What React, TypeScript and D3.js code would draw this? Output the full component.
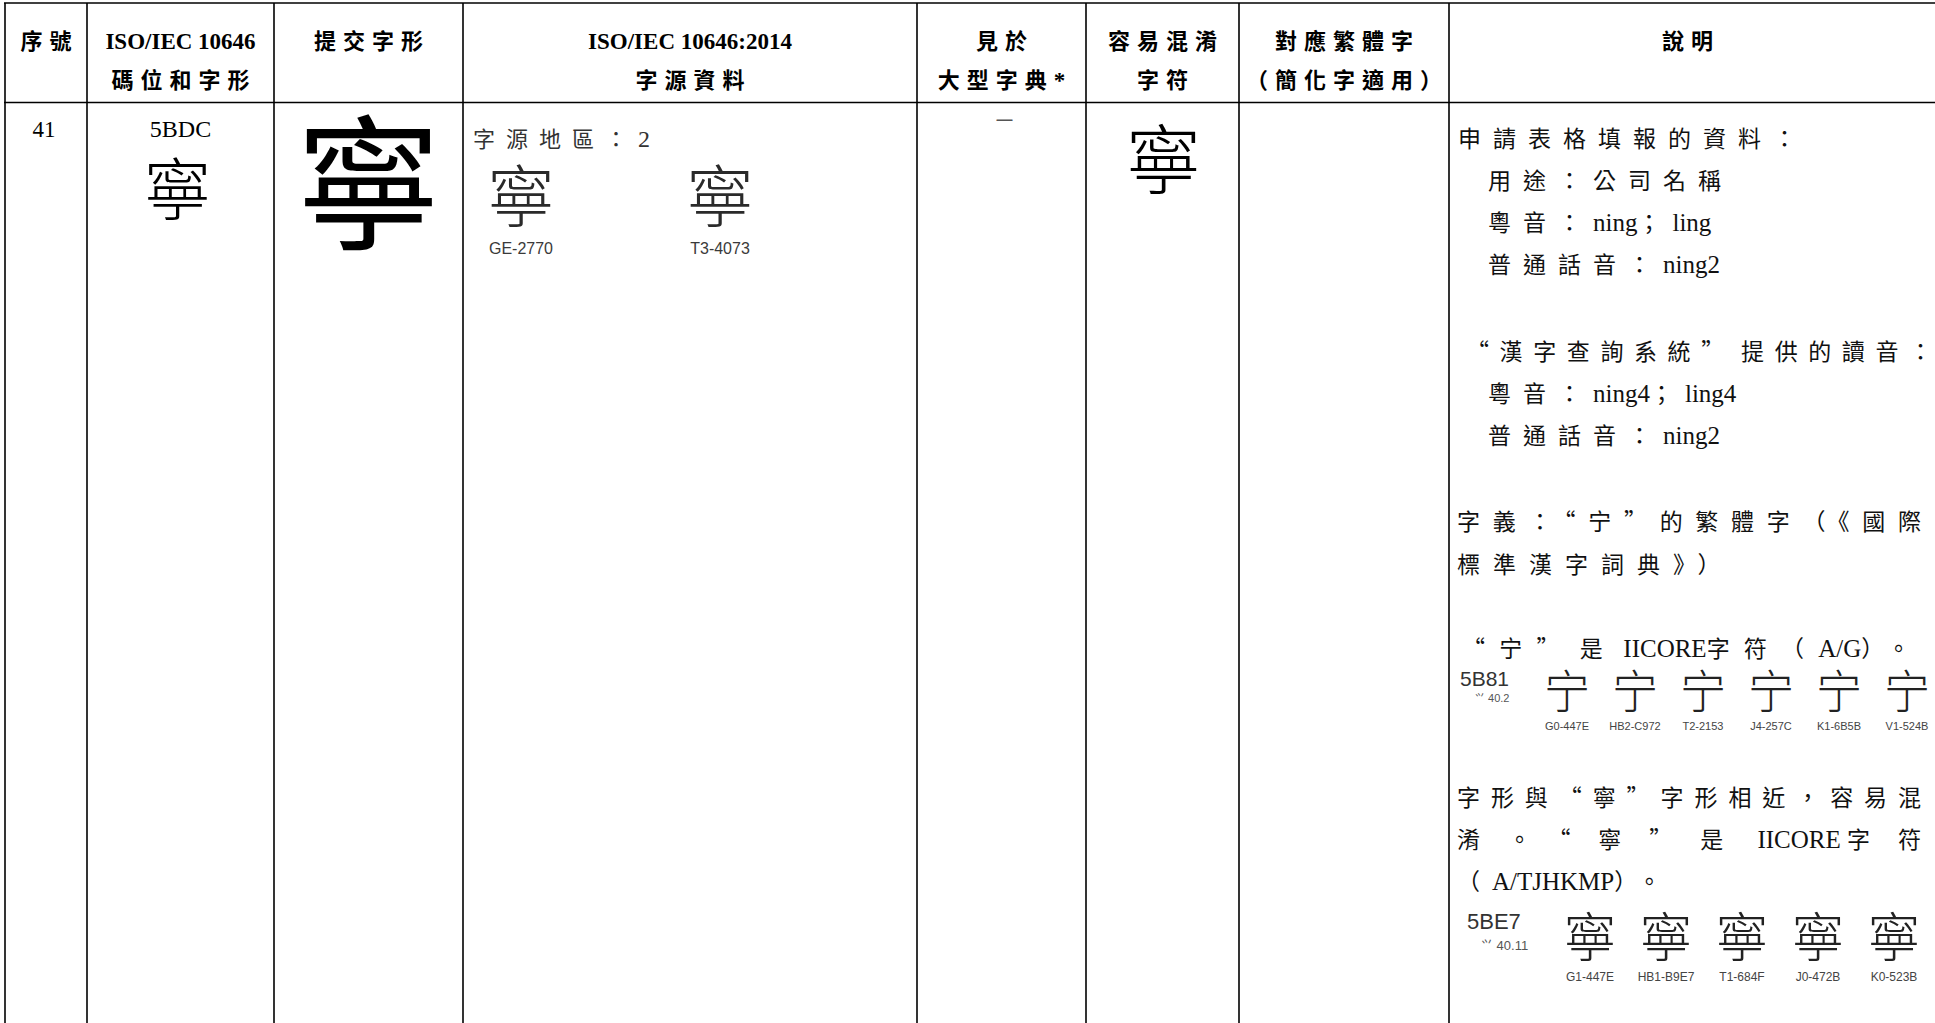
import React, { useEffect, useRef } from "react";
import * as d3 from "d3";

const W = 1935;
const H = 1023;
const CJK = "'Noto Sans CJK TC', 'Noto Sans CJK SC', sans-serif";
const SERIF = "'Liberation Serif', 'DejaVu Serif', serif";
const SANS = "'Liberation Sans', Arial, sans-serif";

// table header
const columnKeys = ["seq", "code", "submitted", "source", "dict", "confusable", "trad", "notes"];
const headerTop = ["序號", "ISO/IEC 10646", "提交字形", "ISO/IEC 10646:2014", "見於", "容易混淆", "對應繁體字", "說明"];
const headerBottom = ["", "碼位和字形", "", "字源資料", "大型字典*", "字符", "（簡化字適用）", ""];

// row 41
const seqNo = "41";
const codePoint = "5BDC";
const submittedChar = "寧";
const sourceRegion = "字源地區：2";
const sourceIds = ["GE-2770", "T3-4073"];
const dictMark = "－";
const confusableChar = "寧";

// notes column
const notesApplication = ["申請表格填報的資料：", "用途：公司名稱", "粵音：ning；ling", "普通話音：ning2"];
const notesLookup = ["“漢字查詢系統” 提供的讀音：", "粵音：ning4；ling4", "普通話音：ning2"];
const notesMeaning = ["字義：“宁”的繁體字（《國際", "標準漢字詞典》）"];
const notesIicore = ["“宁” 是 IICORE字符（A/G）。"];
const notesSimilar = ["字形與“寧”字形相近，容易混", "淆。“寧”是 IICORE 字符", "（A/TJHKMP）。"];

const simpCode = "5B81";
const simpRadical = "⺍ 40.2";
const simpChar = "宁";
const simpSources = ["G0-447E", "HB2-C972", "T2-2153", "J4-257C", "K1-6B5B", "V1-524B"];

const tradCode = "5BE7";
const tradRadical = "⺍ 40.11";
const tradChar = "寧";
const tradSources = ["G1-447E", "HB1-B9E7", "T1-684F", "J0-472B", "K0-523B"];

const isWide = (ch: string) => ch.charCodeAt(0) > 0x2000;

// runs of wide / latin text; the final wide char gets its own run so no trailing spacing
function splitRuns(s: string) {
  const runs: { text: string; wide: boolean; tail?: boolean }[] = [];
  const chars = Array.from(s);
  chars.forEach((ch, i) => {
    const w = isWide(ch);
    const last = runs[runs.length - 1];
    if (w && i === chars.length - 1) runs.push({ text: ch, wide: true, tail: true });
    else if (last && last.wide === w) last.text += ch;
    else runs.push({ text: ch, wide: w });
  });
  return runs;
}

type LineOpts = {
  size: number;
  latinSize?: number;
  spacing?: number;
  justifyTo?: number;
  fill?: string;
  weight?: number;
  anchor?: string;
  latinFont?: string;
};

function drawLine(parent: any, str: string, x: number, y: number, o: LineOpts) {
  const spacing = o.spacing ?? 0;
  const t = parent
    .append("text")
    .attr("x", x)
    .attr("y", y)
    .attr("font-size", o.size)
    .attr("font-weight", o.weight ?? 400)
    .attr("fill", o.fill ?? "#000");
  if (o.anchor) t.attr("text-anchor", o.anchor);
  splitRuns(str).forEach((r) => {
    t.append("tspan")
      .attr("class", r.wide && !r.tail ? "w" : "l")
      .attr("font-family", r.wide ? CJK : o.latinFont ?? SERIF)
      .attr("font-size", r.wide ? o.size : o.latinSize ?? o.size)
      .style("letter-spacing", r.wide && !r.tail ? `${spacing}px` : "0px")
      .text(r.text);
  });
  if (o.justifyTo !== undefined) {
    t.selectAll("tspan.w").style("letter-spacing", "0px");
    const w0 = (t.node() as SVGTextElement).getComputedTextLength();
    const chars = Array.from(str);
    let n = chars.filter(isWide).length;
    if (isWide(chars[chars.length - 1])) n -= 1;
    const s = Math.max(0, (o.justifyTo - x - w0) / Math.max(1, n));
    t.selectAll("tspan.w").style("letter-spacing", `${s}px`);
  }
  return t;
}

const App = () => {
  const ref = useRef<HTMLDivElement>(null);

  useEffect(() => {
    document.body.style.margin = "0";
    const root = d3.select(ref.current);
    root.selectAll("*").remove();

    const svg = root
      .append("svg")
      .attr("width", W)
      .attr("height", H)
      .style("display", "block")
      .style("background", "#fff");

    const edges = [5, 87, 274, 463, 917, 1086, 1239, 1449, 1926];
    const colLeft = d3.scaleOrdinal<string, number>().domain(columnKeys).range(edges.slice(0, -1));
    const colRight = d3.scaleOrdinal<string, number>().domain(columnKeys).range(edges.slice(1));
    const colMid = (k: string) => (colLeft(k) + colRight(k)) / 2;

    const top = 3;
    const headBottom = 102.5;

    // grid lines
    const grid = svg.append("g").attr("stroke", "#000").attr("stroke-width", 1.6);
    [top, headBottom].forEach((y) => {
      grid.append("line").attr("x1", 4).attr("x2", W).attr("y1", y).attr("y2", y);
    });
    edges.slice(0, -1).forEach((x) => {
      grid.append("line").attr("x1", x).attr("x2", x).attr("y1", top).attr("y2", H);
    });

    // header
    const head = svg.append("g");
    columnKeys.forEach((k, i) => {
      drawLine(head, headerTop[i], colMid(k), 49, {
        size: 22,
        latinSize: 23,
        spacing: 7,
        weight: 700,
        anchor: "middle",
      });
      if (headerBottom[i]) {
        drawLine(head, headerBottom[i], colMid(k), 88, {
          size: 22,
          latinSize: 23,
          spacing: 7,
          weight: 700,
          anchor: "middle",
        });
      }
    });

    const body = svg.append("g");

    // 序號
    drawLine(body, seqNo, colMid("seq") - 2, 137, { size: 23, anchor: "middle" });

    // 碼位和字形
    drawLine(body, codePoint, colMid("code"), 137, { size: 24, anchor: "middle" });
    body
      .append("text")
      .attr("x", colMid("code") - 3)
      .attr("y", 215)
      .attr("text-anchor", "middle")
      .attr("font-family", CJK)
      .attr("font-weight", 300)
      .attr("font-size", 68)
      .text(submittedChar);

    // 提交字形
    body
      .append("text")
      .attr("x", colMid("submitted"))
      .attr("y", 238)
      .attr("text-anchor", "middle")
      .attr("font-family", CJK)
      .attr("font-weight", 400)
      .attr("font-size", 146)
      .text(submittedChar);

    // 字源資料
    drawLine(body, sourceRegion, colLeft("source") + 10, 147, {
      size: 22,
      latinSize: 24,
      spacing: 11,
      fill: "#333",
    });
    const srcX = d3.scalePoint<string>().domain(sourceIds).range([521, 720]);
    sourceIds.forEach((id) => {
      body
        .append("text")
        .attr("x", srcX(id)!)
        .attr("y", 222)
        .attr("text-anchor", "middle")
        .attr("font-family", CJK)
        .attr("font-weight", 300)
        .attr("font-size", 68)
        .attr("fill", "#2a2a2a")
        .text(submittedChar);
      body
        .append("text")
        .attr("x", srcX(id)!)
        .attr("y", 254)
        .attr("text-anchor", "middle")
        .attr("font-family", SANS)
        .attr("font-size", 16)
        .attr("fill", "#3a3a3a")
        .text(id);
    });

    // 見於大型字典
    body
      .append("text")
      .attr("x", colMid("dict") + 3)
      .attr("y", 128)
      .attr("text-anchor", "middle")
      .attr("font-family", CJK)
      .attr("font-size", 22)
      .attr("fill", "#555")
      .text(dictMark);

    // 容易混淆字符
    body
      .append("text")
      .attr("x", colMid("confusable") + 1)
      .attr("y", 188)
      .attr("text-anchor", "middle")
      .attr("font-family", CJK)
      .attr("font-weight", 300)
      .attr("font-size", 76)
      .text(confusableChar);

    // 說明
    const notes = svg.append("g");
    const step = 42;
    const base = { size: 23, latinSize: 25, spacing: 12, fill: "#111" };

    notesApplication.forEach((line, i) => {
      drawLine(notes, line, i === 0 ? 1458 : 1488, 147 + i * step, base);
    });
    notesLookup.forEach((line, i) => {
      drawLine(notes, line, i === 0 ? 1466 : 1488, 360 + i * step, {
        ...base,
        justifyTo: i === 0 ? 1932 : undefined,
      });
    });
    notesMeaning.forEach((line, i) => {
      drawLine(notes, line, 1457, 530 + i * (step + 1), {
        ...base,
        spacing: 13,
        justifyTo: i === 0 ? 1921 : undefined,
      });
    });
    notesIicore.forEach((line, i) => {
      drawLine(notes, line, 1462, 657 + i * step, { ...base, justifyTo: 1910 });
    });
    notesSimilar.forEach((line, i) => {
      drawLine(notes, line, 1457, 806 + i * step, {
        ...base,
        justifyTo: i < 2 ? 1921 : undefined,
      });
    });

    // glyph tables in notes
    const glyphBlock = (
      code: string,
      radical: string,
      ch: string,
      sources: string[],
      o: { codeX: number; codeY: number; codeSize: number; radX: number; radY: number; radSize: number; range: [number, number]; glyphY: number; glyphSize: number; labelY: number; labelSize: number }
    ) => {
      const g = notes.append("g");
      g.append("text")
        .attr("x", o.codeX)
        .attr("y", o.codeY)
        .attr("font-family", SANS)
        .attr("font-size", o.codeSize)
        .attr("fill", "#333")
        .text(code);
      g.append("text")
        .attr("x", o.radX)
        .attr("y", o.radY)
        .attr("font-family", SANS)
        .attr("font-size", o.radSize)
        .attr("fill", "#555")
        .text(radical);
      const x = d3.scalePoint<string>().domain(sources).range(o.range);
      sources.forEach((s) => {
        g.append("text")
          .attr("x", x(s)!)
          .attr("y", o.glyphY)
          .attr("text-anchor", "middle")
          .attr("font-family", CJK)
          .attr("font-weight", 300)
          .attr("font-size", o.glyphSize)
          .attr("fill", "#222")
          .text(ch);
        g.append("text")
          .attr("x", x(s)!)
          .attr("y", o.labelY)
          .attr("text-anchor", "middle")
          .attr("font-family", SANS)
          .attr("font-size", o.labelSize)
          .attr("fill", "#444")
          .text(s);
      });
    };

    glyphBlock(simpCode, simpRadical, simpChar, simpSources, {
      codeX: 1460,
      codeY: 686,
      codeSize: 21,
      radX: 1474,
      radY: 702,
      radSize: 11,
      range: [1567, 1907],
      glyphY: 708,
      glyphSize: 46,
      labelY: 730,
      labelSize: 11,
    });

    glyphBlock(tradCode, tradRadical, tradChar, tradSources, {
      codeX: 1467,
      codeY: 929,
      codeSize: 22,
      radX: 1480,
      radY: 950,
      radSize: 13,
      range: [1590, 1894],
      glyphY: 957,
      glyphSize: 53,
      labelY: 981,
      labelSize: 12,
    });
  }, []);

  return <div ref={ref} />;
};

export default App;
